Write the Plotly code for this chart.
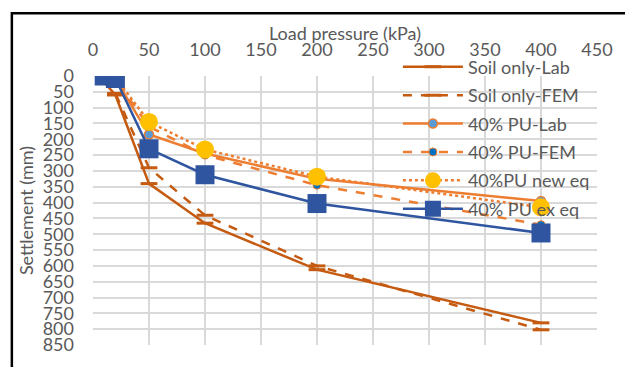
import plotly.graph_objects as go

# Load pressure (kPa) at each loading step
load = [10, 20, 50, 100, 200, 400]

# Settlement (mm) for each series
soil_lab = [20, 60, 340, 465, 612, 780]
soil_fem = [15, 55, 290, 440, 600, 802]
pu_lab = [0, 10, 185, 245, 325, 395]
pu_fem = [0, 10, 160, 250, 345, 470]
pu_new_eq = [0, 5, 145, 232, 318, 415]
pu_ex_eq = [0, 8, 230, 312, 403, 496]

x_ticks = list(range(0, 451, 50))
y_ticks = list(range(0, 851, 50))

FONT = "Lato"
GREY = "#595959"
DARK_ORANGE = "#C55A11"
ORANGE = "#ED7D31"
BLUE = "#2F55A0"
FS = 18

fig = go.Figure()

fig.add_trace(go.Scatter(
    x=load, y=soil_lab, name="Soil only-Lab", mode="lines+markers", legendgroup="a",
    line=dict(color=DARK_ORANGE, width=2.5),
    marker=dict(symbol="line-ew", size=12, line=dict(color=DARK_ORANGE, width=3)),
))
fig.add_trace(go.Scatter(
    x=load, y=soil_fem, name="Soil only-FEM", mode="lines+markers", legendgroup="b",
    line=dict(color=DARK_ORANGE, width=2.5, dash="dash"),
    marker=dict(symbol="line-ew", size=12, line=dict(color=DARK_ORANGE, width=3)),
))
fig.add_trace(go.Scatter(
    x=load, y=pu_lab, name="40% PU-Lab", mode="lines+markers", legendgroup="c",
    line=dict(color=ORANGE, width=2.5),
    marker=dict(symbol="circle", size=9, color="#5B9BD5", line=dict(color=ORANGE, width=1.5)),
))
fig.add_trace(go.Scatter(
    x=load, y=pu_fem, name="40% PU-FEM", mode="lines+markers", legendgroup="d",
    line=dict(color=ORANGE, width=2.5, dash="dash"),
    marker=dict(symbol="circle", size=8, color="#0070C0", line=dict(color=ORANGE, width=1)),
))
fig.add_trace(go.Scatter(
    x=load, y=pu_new_eq, name="40%PU new eq", mode="lines+markers", legendgroup="e",
    line=dict(color=ORANGE, width=2.5, dash="dot"),
    marker=dict(symbol="circle", size=18, color="#FFC000"),
))
fig.add_trace(go.Scatter(
    x=load, y=pu_ex_eq, name="40% PU ex eq", mode="lines+markers", legendgroup="f",
    line=dict(color=BLUE, width=2.5),
    marker=dict(symbol="square", size=19, color=BLUE),
))

# outer chart border (top and left edges visible)
fig.add_shape(type="rect", xref="paper", yref="paper",
              x0=-0.161, y0=-0.2, x1=1.2, y1=1.233,
              line=dict(color="black", width=2.5), layer="below")

# x-axis title placed above the top tick labels
fig.add_annotation(text="Load pressure (kPa)", xref="paper", yref="paper",
                   x=0.5, y=(355 - 31) / 279, xanchor="center", yanchor="middle",
                   showarrow=False, font=dict(family=FONT, size=FS, color=GREY))

fig.update_layout(
    width=625, height=367,
    margin=dict(l=93, r=28, t=76, b=12),
    paper_bgcolor="white", plot_bgcolor="white",
    font=dict(family=FONT, color=GREY, size=FS),
    showlegend=True,
    legend=dict(
        x=0.605, y=1.102, xanchor="left", yanchor="top",
        bgcolor="rgba(0,0,0,0)", font=dict(family=FONT, size=FS, color=GREY),
        itemwidth=60, tracegroupgap=2, maxheight=1.0,
    ),
    xaxis=dict(
        side="top", range=[0, 450], tickvals=x_ticks,
        showgrid=True, gridcolor="#D9D9D9", gridwidth=1.5,
        zeroline=False, showline=False,
        tickfont=dict(family=FONT, size=FS, color=GREY),
        ticks="", ticklabelstandoff=15,
    ),
    yaxis=dict(
        range=[850, 0], tickvals=y_ticks,
        showgrid=True, gridcolor="#D9D9D9", gridwidth=1.5,
        zeroline=False, showline=False,
        tickfont=dict(family=FONT, size=FS, color=GREY),
        title=dict(text="Settlement (mm)", font=dict(family=FONT, size=FS, color=GREY), standoff=4),
        ticks="", ticklabelstandoff=18,
    ),
)

fig.write_html("out.html")
